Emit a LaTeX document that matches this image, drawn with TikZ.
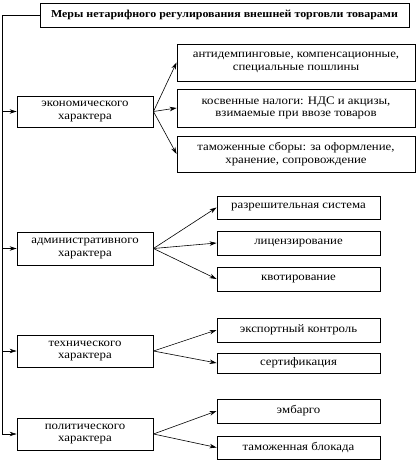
\documentclass[tikz,border=0pt]{standalone}
\usepackage{fontspec}
\setmainfont[FakeStretch=1.12]{Liberation Serif}
\usetikzlibrary{arrows.meta}
\begin{document}
\begin{tikzpicture}[x=1bp,y=-1bp,
  box/.style={draw, line width=0.9bp, inner sep=1bp, align=center,
    font=\fontsize{11.5}{12.5}\selectfont},
  arr/.style={-{Stealth[length=7bp,width=4.5bp]}, line width=0.6bp},
  ln/.style={line width=0.7bp}]
\useasboundingbox (0,0) rectangle (416,460);
\node[box, minimum width=369bp, minimum height=24bp, font=\bfseries\fontsize{10.7}{13}\selectfont] (title) at (224.5,15) {Меры нетарифного регулирования внешней торговли товарами};
% left boxes
\node[box, minimum width=136bp, minimum height=31bp] (econ) at (85,111.5) {экономического\\характера};
\node[box, minimum width=136bp, minimum height=33bp] (adm) at (85,248.5) {административного\\характера};
\node[box, minimum width=136bp, minimum height=32bp] (tech) at (85,351) {технического\\характера};
\node[box, minimum width=136bp, minimum height=32bp] (pol) at (85,434) {политического\\характера};
% economic group
\node[box, minimum width=238bp, minimum height=37bp] (e1) at (296,62.5) {антидемпинговые, компенсационные,\\специальные пошлины};
\node[box, minimum width=238bp, minimum height=38bp] (e2) at (296,108) {косвенные налоги: НДС и акцизы,\\взимаемые при ввозе товаров};
\node[box, minimum width=238bp, minimum height=36bp] (e3) at (296,154) {таможенные сборы: за оформление,\\хранение, сопровождение};
% administrative group
\node[box, minimum width=163bp, minimum height=23bp] (a1) at (298.5,207.5) {разрешительная система};
\node[box, minimum width=163bp, minimum height=24bp] (a2) at (298.5,243) {лицензирование};
\node[box, minimum width=163bp, minimum height=24bp] (a3) at (298.5,279) {квотирование};
% technical group
\node[box, minimum width=163bp, minimum height=24bp] (t1) at (298.5,330) {экспортный контроль};
\node[box, minimum width=163bp, minimum height=20bp] (t2) at (298.5,363) {сертификация};
% political group
\node[box, minimum width=163bp, minimum height=24bp] (p1) at (298.5,411) {эмбарго};
\node[box, minimum width=163bp, minimum height=23bp] (p2) at (298.5,447.5) {таможенная блокада};
% spine
\coordinate (s0) at (2,15);
\draw[ln] (title.west) -- (s0) -- (s0 |- pol.west);
\foreach \n in {econ,adm,tech,pol} \draw[arr] (s0 |- \n.west) -- (\n.west);
% fans
\foreach \n in {e1,e2,e3} \draw[arr] (econ.east) -- (\n.west);
\foreach \n in {a1,a2,a3} \draw[arr] (adm.east) -- (\n.west);
\foreach \n in {t1,t2} \draw[arr] (tech.east) -- (\n.west);
\foreach \n in {p1,p2} \draw[arr] (pol.east) -- (\n.west);
\end{tikzpicture}
\end{document}
